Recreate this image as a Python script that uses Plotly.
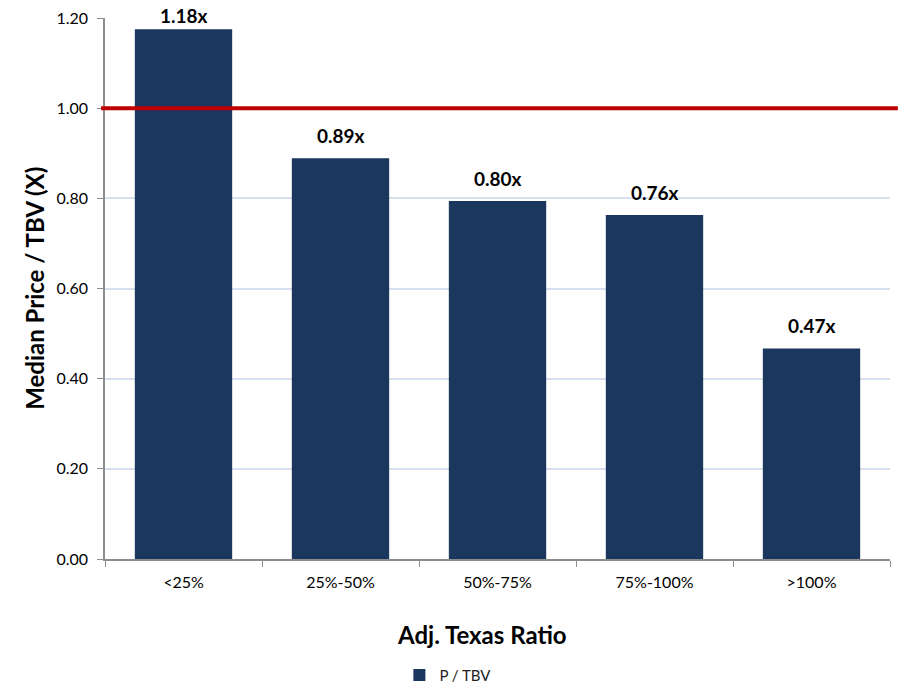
import plotly.graph_objects as go

categories = ["<25%", "25%-50%", "50%-75%", "75%-100%", ">100%"]
values = [1.175, 0.889, 0.794, 0.763, 0.467]
labels = ["1.18x", "0.89x", "0.80x", "0.76x", "0.47x"]
ref_value = 1.0
y_ticks = [0.0, 0.2, 0.4, 0.6, 0.8, 1.0, 1.2]

FONT = "Lato, 'Open Sans', sans-serif"
BAR = "#1B375E"

fig = go.Figure()
fig.add_trace(go.Bar(x=categories, y=values, name="P / TBV",
                     marker=dict(color=BAR, line=dict(width=0))))

for i, (c, v, t) in enumerate(zip(categories, values, labels)):
    fig.add_annotation(x=c, y=v, text="<b>%s</b>" % t, showarrow=False,
                       yanchor="bottom", yshift=9 if i > 0 else 0,
                       font=dict(family=FONT, size=19, color="#000000"))

fig.add_shape(type="line", xref="paper", yref="y", x0=-0.005, x1=1.01,
              y0=ref_value, y1=ref_value,
              line=dict(color="#C00000", width=4))

fig.add_annotation(xref="paper", yref="paper", x=-0.09, xanchor="center", y=0.5,
                   yanchor="middle",
                   text="<b>Median Price / TBV (X)</b>", textangle=-90,
                   showarrow=False, font=dict(family=FONT, size=24, color="#000"))
fig.add_annotation(xref="paper", yref="paper", x=0.48, y=-0.14,
                   yanchor="middle",
                   text="<b>Adj. Texas Ratio</b>",
                   showarrow=False, font=dict(family=FONT, size=24, color="#000"))

fig.update_layout(
    width=898, height=684,
    margin=dict(l=105, r=8, t=18, b=125, autoexpand=False),
    plot_bgcolor="white", paper_bgcolor="white",
    bargap=0.38,
    font=dict(family=FONT, size=14, color="#000"),
    showlegend=True,
    legend=dict(orientation="h", x=0.375, xanchor="left", y=-0.215, yanchor="middle",
                font=dict(size=15, color="#222"), itemwidth=30),
    xaxis=dict(showline=True, linecolor="#8C8C8C", linewidth=1.5,
               ticks="outside", ticklen=6, tickcolor="#8C8C8C", tickson="boundaries",
               showgrid=False, tickfont=dict(size=16), ticklabelstandoff=8),
    yaxis=dict(range=[0, 1.2], tickvals=y_ticks, tickformat=".2f",
               showline=True, linecolor="#8C8C8C", linewidth=1.5,
               ticks="outside", ticklen=6, tickcolor="#8C8C8C",
               gridcolor="#D6E0F0", gridwidth=1.5, zeroline=False,
               tickfont=dict(size=16), ticklabelstandoff=6),
)

fig.write_html("out.html")
